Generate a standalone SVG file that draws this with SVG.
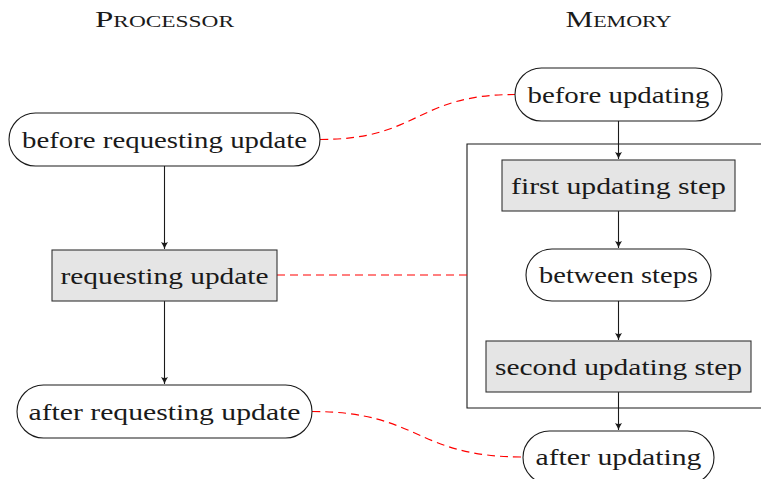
<svg xmlns="http://www.w3.org/2000/svg" width="761" height="479" viewBox="0 0 761 479">
<style>
text{font-family:"Liberation Serif","DejaVu Serif",serif;font-size:24px;fill:#1a1a1a;text-anchor:middle;dominant-baseline:central}
.title{font-variant:small-caps;font-size:24px}
.term{fill:#fff;stroke:#1a1a1a;stroke-width:1.1}
.box{fill:#e5e5e5;stroke:#333;stroke-width:1.1}
.arr{fill:none;stroke:#1a1a1a;stroke-width:1.1;marker-end:url(#ah)}
.dash{fill:none;stroke:#ff0000;stroke-width:1.2;stroke-dasharray:8 5}
</style>
<defs>
<marker id="ah" markerWidth="10" markerHeight="10" refX="8" refY="5" orient="auto" markerUnits="userSpaceOnUse">
<path d="M1,1.5 Q5,4 8,5 Q5,6 1,8.5 Q3,5 1,1.5Z" fill="#1a1a1a"/>
</marker>
</defs>
<g id="titles">
<text class="title" x="164.5" y="19" textLength="139" lengthAdjust="spacingAndGlyphs">Processor</text>
<text class="title" x="618.5" y="19" textLength="106" lengthAdjust="spacingAndGlyphs">Memory</text>
</g>
<g id="frame"><path d="M765,144 H467 V408 H765" fill="none" stroke="#1a1a1a" stroke-width="1.1"/></g>
<g id="connectors">
<path class="arr" d="M164.5,166 V249"/>
<path class="arr" d="M164.5,301 V384"/>
<path class="arr" d="M618.5,121 V159"/>
<path class="arr" d="M618.5,211 V248"/>
<path class="arr" d="M618.5,301 V340"/>
<path class="arr" d="M618.5,392 V430"/>
<path class="dash" d="M320,139.5 C420,139.5 415,94.5 515,94.5"/>
<path class="dash" d="M277,275 L467,275"/>
<path class="dash" d="M312,411.5 C420,411.5 415,457 523,457"/>
</g>
<g id="n1"><rect class="term" x="9" y="113" width="311" height="53" rx="26.5"/><text x="164.5" y="139.5" textLength="285" lengthAdjust="spacingAndGlyphs">before requesting update</text></g>
<g id="n2"><rect class="box" x="52" y="250" width="225" height="51"/><text x="164.5" y="275.5" textLength="208" lengthAdjust="spacingAndGlyphs">requesting update</text></g>
<g id="n3"><rect class="term" x="17" y="385" width="295" height="53" rx="26.5"/><text x="164.5" y="411.5" textLength="272" lengthAdjust="spacingAndGlyphs">after requesting update</text></g>
<g id="m1"><rect class="term" x="515" y="68" width="207" height="53" rx="26.5"/><text x="618.5" y="94.5" textLength="182" lengthAdjust="spacingAndGlyphs">before updating</text></g>
<g id="m2"><rect class="box" x="502" y="160" width="233" height="51"/><text x="618.5" y="185.5" textLength="215" lengthAdjust="spacingAndGlyphs">first updating step</text></g>
<g id="m3"><rect class="term" x="526" y="249" width="185" height="52" rx="26"/><text x="618.5" y="275" textLength="159" lengthAdjust="spacingAndGlyphs">between steps</text></g>
<g id="m4"><rect class="box" x="486" y="341" width="265" height="51"/><text x="618.5" y="366.5" textLength="247" lengthAdjust="spacingAndGlyphs">second updating step</text></g>
<g id="m5"><rect class="term" x="523" y="431" width="191" height="53" rx="26.5"/><text x="618.5" y="457" textLength="166" lengthAdjust="spacingAndGlyphs">after updating</text></g>
</svg>
